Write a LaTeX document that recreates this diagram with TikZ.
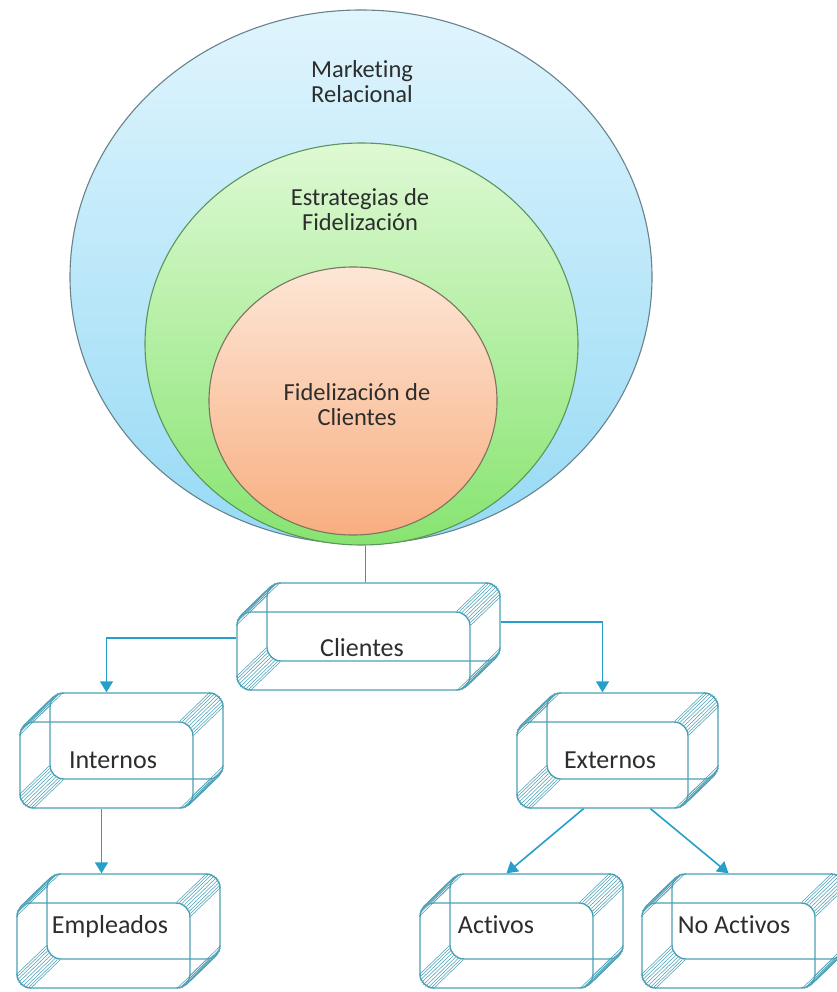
\documentclass[tikz,border=0pt]{standalone}
\usepackage{fontspec}
\setmainfont{Carlito}[Ligatures=NoCommon]
\usetikzlibrary{shapes.geometric,arrows.meta,calc}
\definecolor{boxln}{RGB}{75,160,182}
\definecolor{connln}{RGB}{38,160,202}
\definecolor{txt}{RGB}{45,45,45}
\definecolor{blueTop}{RGB}{224,245,253}
\definecolor{blueBot}{RGB}{150,218,245}
\definecolor{blueEdge}{RGB}{105,130,140}
\definecolor{greenTop}{RGB}{222,249,212}
\definecolor{greenBot}{RGB}{135,228,112}
\definecolor{greenEdge}{RGB}{90,150,90}
\definecolor{orTop}{RGB}{253,230,214}
\definecolor{orBot}{RGB}{248,174,128}
\definecolor{orEdge}{RGB}{125,115,95}
\tikzset{
  face/.style={draw=boxln, line width=1.4pt, rounded corners=14pt, rectangle, inner sep=0pt},
  hatchline/.style={draw=boxln, line width=0.55pt},
  conn/.style={draw=connln, line width=1.6pt},
  arr/.style={conn, -{Triangle[width=13pt,length=11pt]}},
  boxlabel/.style={text=txt, font=\fontsize{26}{30}\selectfont, inner sep=0pt},
  circlabel/.style={text=txt, font=\fontsize{24.5}{25}\selectfont, align=center, inner sep=0pt},
  ring/.style={ellipse, inner sep=0pt, line width=1.1pt},
}
\newcommand{\cubebox}[7]{%
  \node[face, minimum width={#4-#2}, minimum height={#5-#3}] (#1) at ({(#2+#4)/2},{(#3+#5)/2}) {};
  \node[face, minimum width={#4-#2}, minimum height={#5-#3}] (#1b) at ({(#2+#4)/2+30},{(#3+#5)/2-29}) {};
  \coordinate (#1tr) at ([shift={(-14pt,-14pt)}]#1.north east);
  \coordinate (#1tl) at ([shift={(14pt,-14pt)}]#1.north west);
  \coordinate (#1bl) at ([shift={(14pt,14pt)}]#1.south west);
  \coordinate (#1br) at ([shift={(-14pt,14pt)}]#1.south east);
  \foreach \a in {0,11.25,...,90}{\draw[hatchline] ([shift={(\a:14pt)}]#1tr) -- ++(30,-29);}
  \foreach \a in {90,101.25,...,180}{\draw[hatchline] ([shift={(\a:14pt)}]#1tl) -- ++(30,-29);}
  \foreach \a in {180,191.25,...,270}{\draw[hatchline] ([shift={(\a:14pt)}]#1bl) -- ++(30,-29);}
  \foreach \a in {270,281.25,...,360}{\draw[hatchline] ([shift={(\a:14pt)}]#1br) -- ++(30,-29);}
  \node[boxlabel] (#1t) at (#6) {#7};
}
\begin{document}
\begin{tikzpicture}[x=1pt,y=-1pt]
\useasboundingbox (0,0) rectangle (836,992);
\fill[white] (0,0) rectangle (836,992);
% nested circles
\node[ring, minimum width=582pt, minimum height=534pt, draw=blueEdge, top color=blueTop, bottom color=blueBot] (mkt) at (361,277) {};
\node[ring, minimum width=433pt, minimum height=402pt, draw=greenEdge, top color=greenTop, bottom color=greenBot] (est) at (361.5,344) {};
\node[ring, minimum width=288pt, minimum height=268pt, draw=orEdge, top color=orTop, bottom color=orBot] (fid) at (353,401) {};
\node[circlabel] (mktl) at (362,82) {Marketing\\Relacional};
\node[circlabel] (estl) at (360,210) {Estrategias de\\Fidelización};
\node[circlabel] (fidl) at (357,405) {Fidelización de\\Clientes};
% boxes
\cubebox{clientes}{237}{612}{470}{690}{362,648}{Clientes}
\cubebox{internos}{20}{722}{193}{808}{113,760}{Internos}
\cubebox{externos}{517}{722}{688}{808}{610,760}{Externos}
\cubebox{empleados}{17}{903}{190}{988}{110,927}{Empleados}
\cubebox{activos}{420}{903}{593}{988}{496,925}{Activos}
\cubebox{noactivos}{642}{903}{815}{988}{734,925}{No Activos}
% connectors
\draw[conn] ([xshift=-18pt]clientesb.north) -- ([xshift=-18pt]clientesb.north |- est.south);
\draw[arr] ([yshift=13pt]clientes.west) -| (internos.north |- internosb.north);
\draw[arr] (clientesb.east) -| (externos.north |- externosb.north);
\draw[arr] ([xshift=-5pt]internos.south) -- ([xshift=-5pt]internos.south |- empleadosb.north);
\draw[arr] ([xshift=-19pt]externos.south) -- (activos.north |- activosb.north);
\draw[arr] ([xshift=48pt]externos.south) -- (noactivos.north |- noactivosb.north);
\end{tikzpicture}
\end{document}
